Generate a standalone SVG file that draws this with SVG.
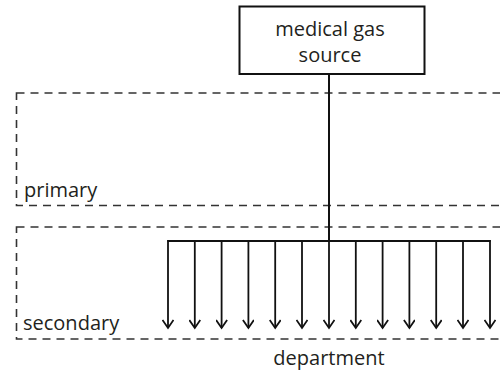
<svg xmlns="http://www.w3.org/2000/svg" width="500" height="376" viewBox="0 0 500 376">
<defs>
<style>
.t{font-family:"Open Sans","Liberation Sans",sans-serif;font-size:20px;fill:#231f20}
.zone{fill:none;stroke:#333;stroke-width:1.6;stroke-dasharray:8 6}
.ln{fill:none;stroke:#111;stroke-width:2}
.ar{fill:none;stroke:#111;stroke-width:1.8}
</style>
<marker id="ah" viewBox="0 0 12 12" refX="10" refY="6" markerWidth="12" markerHeight="12" markerUnits="userSpaceOnUse" orient="auto">
<path d="M2,0.5 L10,6 L2,11.5" fill="none" stroke="#111" stroke-width="1.8"/>
</marker>
</defs>
<rect width="500" height="376" fill="#fff"/>
<g id="zone-primary">
<rect class="zone" x="16.5" y="93" width="500" height="112.5"/>
<text class="t" x="24" y="197">primary</text>
</g>
<g id="zone-secondary">
<rect class="zone" x="16.5" y="227" width="500" height="112"/>
<text class="t" x="23" y="330">secondary</text>
</g>
<g id="source">
<rect x="239.5" y="6.5" width="185" height="67.5" fill="#fff" stroke="#111" stroke-width="2"/>
<text class="t" x="330" y="36" text-anchor="middle">medical gas</text>
<text class="t" x="330" y="62" text-anchor="middle">source</text>
</g>
<g id="department">
<text class="t" x="329" y="365" text-anchor="middle">department</text>
</g>
<g id="connectors">
<line class="ln" x1="329" y1="74" x2="329" y2="241"/>
<line class="ln" x1="167.5" y1="241" x2="490.5" y2="241"/>
<g class="ar" marker-end="url(#ah)">
<line x1="168" y1="240" x2="168" y2="328"/>
<line x1="194.8" y1="241" x2="194.8" y2="328"/>
<line x1="221.6" y1="241" x2="221.6" y2="328"/>
<line x1="248.4" y1="241" x2="248.4" y2="328"/>
<line x1="275.2" y1="241" x2="275.2" y2="328"/>
<line x1="302" y1="241" x2="302" y2="328"/>
<line x1="329" y1="241" x2="329" y2="328"/>
<line x1="355.8" y1="241" x2="355.8" y2="328"/>
<line x1="382.6" y1="241" x2="382.6" y2="328"/>
<line x1="409.4" y1="241" x2="409.4" y2="328"/>
<line x1="436.2" y1="241" x2="436.2" y2="328"/>
<line x1="463" y1="241" x2="463" y2="328"/>
<line x1="490" y1="240" x2="490" y2="328"/>
</g>
</g>
</svg>
